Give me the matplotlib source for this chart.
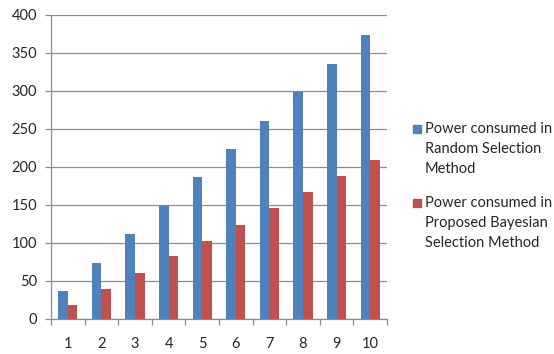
import matplotlib
matplotlib.use("Agg")
import matplotlib.pyplot as plt
from matplotlib.patches import Rectangle
import numpy as np

categories = ["1", "2", "3", "4", "5", "6", "7", "8", "9", "10"]
random_sel = [37, 74, 112, 149, 187, 224, 261, 299, 336, 374]
bayesian_sel = [18, 40, 61, 83, 103, 124, 146, 167, 188, 209]
series_labels = ["Power consumed in\nRandom Selection\nMethod",
                 "Power consumed in\nProposed Bayesian\nSelection Method"]
colors = ["#4F81BD", "#C0504D"]
yticks = [0, 50, 100, 150, 200, 250, 300, 350, 400]

plt.rcParams['font.family'] = ['Lato', 'DejaVu Sans']
txt_color = "#262626"
grid_color = "#8c8c8c"

fig = plt.figure(figsize=(5.54, 3.54), dpi=100)
ax = fig.add_axes([51/554, 1-319/354, 336/554, 304/354])

x = np.arange(1, len(categories) + 1)
w = 0.285
ax.bar(x - w/2, random_sel, width=w, color=colors[0], zorder=3)
ax.bar(x + w/2, bayesian_sel, width=w, color=colors[1], zorder=3)

ax.set_xlim(0.5, len(categories) + 0.5)
ax.set_ylim(0, 400)
ax.set_yticks(yticks)
ax.set_yticklabels([str(v) for v in yticks])
ax.yaxis.grid(True, color=grid_color, linewidth=0.9, zorder=0)
ax.set_axisbelow(True)

ax.set_xticks(x)
ax.set_xticklabels(categories)
ax.set_xticks(np.arange(0.5, len(categories) + 1, 1.0), minor=True)
ax.tick_params(axis='x', which='major', length=0, pad=13, labelsize=10.5, labelcolor=txt_color)
ax.tick_params(axis='x', which='minor', length=4, width=0.9, color=grid_color, direction='out')
ax.tick_params(axis='y', which='major', length=4, width=0.9, color=grid_color, pad=6,
               labelsize=10.5, labelcolor=txt_color)

for s in ['top', 'right']:
    ax.spines[s].set_visible(False)
for s in ['left', 'bottom']:
    ax.spines[s].set_color(grid_color)
    ax.spines[s].set_linewidth(0.9)

# legend (manual, first-line aligned squares)
entry_y = [129, 203]
for lab, col, yy in zip(series_labels, colors, entry_y):
    fig.patches.append(Rectangle((413/554, 1-(yy+4)/354), 8/554, 8/354,
                                 transform=fig.transFigure, color=col))
    fig.text(425/554, 1-(yy-7)/354, lab, ha='left', va='top', fontsize=10.5,
             color=txt_color, linespacing=1.55)

fig.savefig("out.png", dpi=100)
